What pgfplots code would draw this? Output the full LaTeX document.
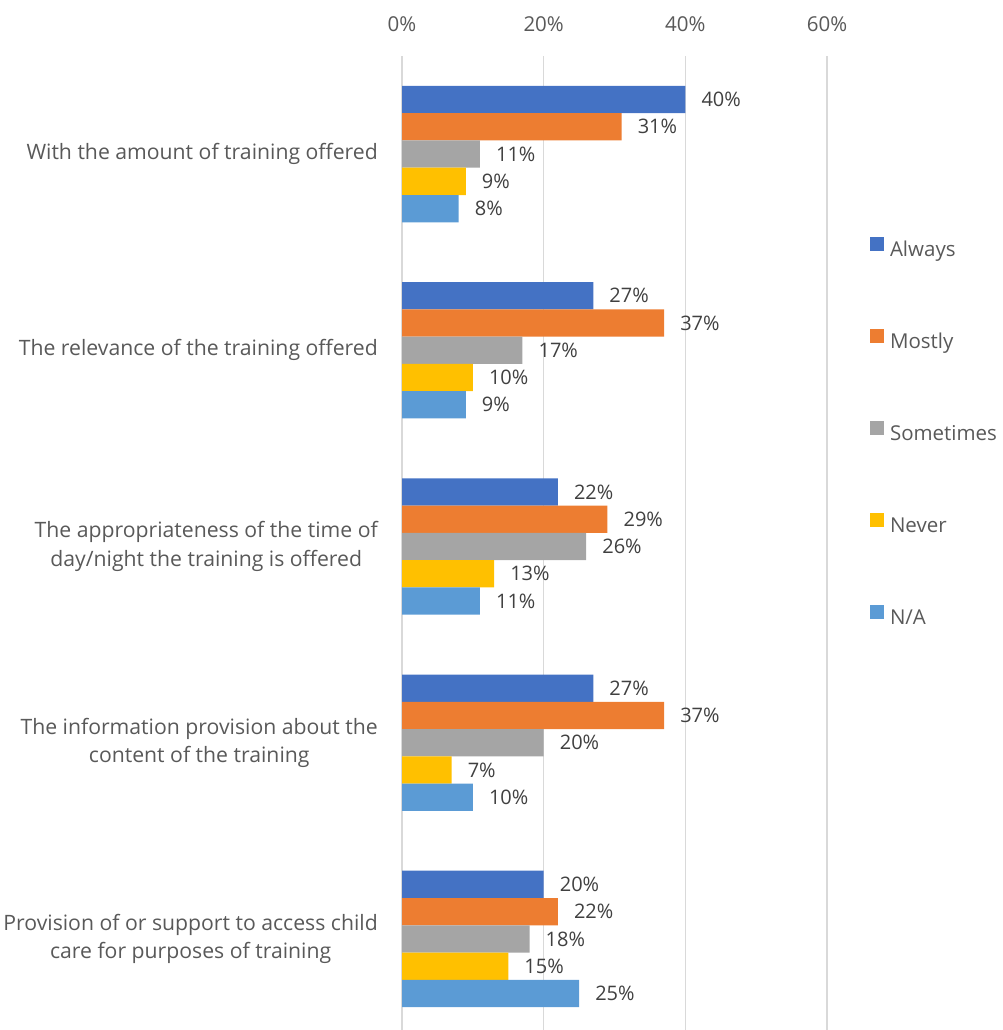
\documentclass[border=0pt]{standalone}
\usepackage{pgfplots}
\pgfplotsset{compat=1.18}
\usepackage{fontspec}
\setmainfont{Open Sans}
\definecolor{cAlways}{HTML}{4472C4}
\definecolor{cMostly}{HTML}{ED7D31}
\definecolor{cSometimes}{HTML}{A5A5A5}
\definecolor{cNever}{HTML}{FFC000}
\definecolor{cNA}{HTML}{5B9BD5}
\definecolor{labelgray}{HTML}{595959}
\definecolor{datagray}{HTML}{404040}
\definecolor{gridgray}{HTML}{D9D9D9}
\begin{document}
\begin{tikzpicture}
\useasboundingbox (0,0) rectangle (1002pt,1030pt);
\begin{axis}[
  at={(402pt,-7pt)}, anchor=south west,
  scale only axis, width=425pt, height=981pt,
  xbar, bar width=0.139,
  y dir=reverse,
  xmin=0, xmax=60, ymin=-0.5, ymax=4.5,
  xtick={0,20,40,60}, xticklabel pos=right,
  xticklabel={\pgfmathprintnumber{\tick}\%},
  ytick={0,1,2,3,4},
  yticklabels={{With the amount of training offered},
               {The relevance of the training offered},
               {The appropriateness of the time of\\day/night the training is offered},
               {The information provision about the\\content of the training},
               {Provision of or support to access child\\care for purposes of training}},
  major tick length=0pt,
  axis line style={draw=none},
  xmajorgrids, major grid style={gridgray, line width=1.5pt},
  /pgf/number format/assume math mode=true,
  tick label style={font=\fontsize{20.5}{28}\selectfont, color=labelgray, inner sep=0pt},
  xticklabel style={yshift=24pt},
  yticklabel style={align=center, xshift=-24pt, font=\fontsize{21.2}{28.5}\selectfont},
  nodes near coords={\pgfmathprintnumber{\pgfplotspointmeta}\%},
  point meta=x,
  nodes near coords style={anchor=west, inner sep=0pt, xshift=16pt, font=\fontsize{20}{24}\selectfont, color=datagray},
  legend style={at={(1.1012,0.8150)}, anchor=north west, draw=none, fill=none,
    inner sep=0pt, outer sep=0pt, row sep=68pt,
    font=\fontsize{20.5}{24}\selectfont, text=labelgray,
    nodes={inner sep=0pt, text height=15pt, text depth=5pt},
    /tikz/every odd column/.append style={column sep=6pt}},
  legend cell align=left,
  legend image code/.code={\fill[#1] (0pt,0pt) rectangle (14pt,14pt);},
]
\addplot[fill=cAlways, draw=none, bar shift=-0.278] coordinates {(40,0) (27,1) (22,2) (27,3) (20,4)};
\addplot[fill=cMostly, draw=none, bar shift=-0.139] coordinates {(31,0) (37,1) (29,2) (37,3) (22,4)};
\addplot[fill=cSometimes, draw=none, bar shift=0] coordinates {(11,0) (17,1) (26,2) (20,3) (18,4)};
\addplot[fill=cNever, draw=none, bar shift=0.139] coordinates {(9,0) (10,1) (13,2) (7,3) (15,4)};
\addplot[fill=cNA, draw=none, bar shift=0.278] coordinates {(8,0) (9,1) (11,2) (10,3) (25,4)};
\legend{Always, Mostly, Sometimes, Never, N/A}
\end{axis}
\end{tikzpicture}
\end{document}
